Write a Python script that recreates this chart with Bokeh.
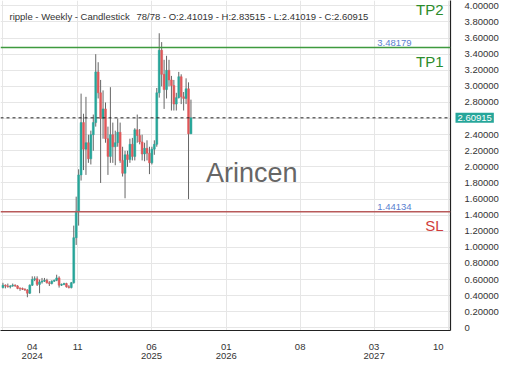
import pandas as pd
from bokeh.plotting import figure
from bokeh.models import Range1d, FixedTicker, Label, Span, ColumnDataSource, NumeralTickFormatter
from bokeh.embed import file_html
from bokeh.resources import INLINE

# ---------------- data ----------------
week_start = "2024-04-01"
n_weeks = 78
opens = [0.50, 0.53, 0.52, 0.51, 0.52, 0.53, 0.52, 0.495, 0.49, 0.48,
         0.47, 0.43, 0.53, 0.60, 0.61, 0.54, 0.57, 0.58, 0.59, 0.56,
         0.55, 0.58, 0.59, 0.62, 0.53, 0.54, 0.55, 0.51, 0.50, 0.56,
         1.12, 1.45, 1.90, 2.55, 2.22, 2.30, 2.10, 2.40, 2.55, 3.18,
         2.92, 2.60, 2.72, 2.35, 2.13, 2.40, 2.25, 2.30, 2.43, 2.08,
         1.92, 2.15, 2.09, 2.28, 2.13, 2.46, 2.39, 2.31, 2.16, 2.23,
         2.17, 2.05, 2.22, 2.28, 2.92, 3.45, 3.15, 2.96, 3.20, 3.08,
         3.01, 2.78, 2.86, 3.12, 2.87, 2.85, 2.97, 2.41019]
highs = [0.56, 0.54, 0.55, 0.53, 0.55, 0.54, 0.53, 0.50, 0.50, 0.49,
         0.48, 0.54, 0.64, 0.64, 0.64, 0.60, 0.62, 0.62, 0.61, 0.58,
         0.59, 0.60, 0.66, 0.64, 0.55, 0.56, 0.56, 0.53, 0.57, 1.27,
         1.63, 1.97, 2.91, 2.66, 2.87, 2.40, 2.45, 2.65, 3.40, 3.30,
         3.08, 2.95, 2.80, 2.50, 2.99, 2.55, 2.45, 2.60, 2.55, 2.25,
         2.20, 2.20, 2.35, 2.36, 2.48, 2.65, 2.47, 2.40, 2.30, 2.33,
         2.25, 2.25, 2.33, 2.98, 3.66, 3.55, 3.33, 3.38, 3.33, 3.13,
         3.08, 2.92, 3.18, 3.15, 2.93, 3.10, 3.05, 2.83515]
lows = [0.49, 0.49, 0.50, 0.49, 0.51, 0.51, 0.48, 0.46, 0.47, 0.46,
        0.38, 0.42, 0.52, 0.58, 0.52, 0.43, 0.55, 0.57, 0.55, 0.52,
        0.54, 0.57, 0.58, 0.50, 0.52, 0.53, 0.50, 0.49, 0.49, 0.55,
        1.03, 1.27, 1.83, 1.96, 1.90, 2.05, 2.03, 2.20, 2.50, 2.85,
        1.80, 2.35, 2.30, 1.90, 2.05, 2.05, 2.02, 2.25, 2.05, 1.88,
        1.61, 2.00, 2.05, 2.08, 2.08, 2.30, 2.28, 2.08, 2.07, 2.08,
        1.91, 2.03, 2.15, 2.25, 2.86, 3.00, 2.72, 2.85, 3.00, 2.70,
        2.70, 2.70, 2.85, 2.78, 2.70, 2.78, 1.60, 2.41019]
closes = [0.53, 0.52, 0.51, 0.52, 0.53, 0.52, 0.49, 0.49, 0.48, 0.47,
          0.43, 0.53, 0.60, 0.61, 0.54, 0.57, 0.58, 0.59, 0.56, 0.55,
          0.58, 0.59, 0.62, 0.53, 0.54, 0.55, 0.51, 0.50, 0.56, 1.12,
          1.45, 1.90, 2.55, 2.22, 2.30, 2.10, 2.40, 2.55, 3.18, 2.92,
          2.60, 2.72, 2.35, 2.13, 2.40, 2.25, 2.30, 2.43, 2.08, 1.92,
          2.15, 2.09, 2.28, 2.13, 2.46, 2.39, 2.31, 2.16, 2.23, 2.17,
          2.05, 2.22, 2.28, 2.92, 3.45, 3.15, 2.96, 3.20, 3.08, 3.01,
          2.78, 2.86, 3.12, 2.87, 2.85, 2.97, 2.41, 2.60915]

y_ticks = [0, 0.2, 0.4, 0.6, 0.8, 1.0, 1.2, 1.4, 1.6, 1.8, 2.0,
           2.2, 2.4, 2.6, 2.8, 3.0, 3.2, 3.4, 3.6, 3.8, 4.0]
x_tick_dates = ["2024-04-01", "2024-11-01", "2025-06-01", "2026-01-01",
                "2026-08-01", "2027-03-01", "2027-10-01"]
x_tick_labels = ["04\n2024", "11", "06\n2025", "01\n2026", "08", "03\n2027", "10"]

title_left = "ripple - Weekly - Candlestick"
title_right = "78/78 - O:2.41019 - H:2.83515 - L:2.41019 - C:2.60915"
last_price = 2.60915
tp1 = 3.48179
tp2 = 4.12
sl = 1.44134
watermark = "Arincen"

# ---------------- build ----------------
dates = pd.date_range(week_start, periods=n_weeks, freq="7D")
up_col, down_col = "#26a69a", "#e0585a"
cols = [up_col if c >= o else down_col for o, c in zip(opens, closes)]
src = ColumnDataSource(dict(
    x=dates, o=opens, h=highs, l=lows, c=closes,
    top=[max(o, c) for o, c in zip(opens, closes)],
    bot=[min(o, c) for o, c in zip(opens, closes)],
    col=cols))

x0 = pd.Timestamp("2024-03-25")
x1 = pd.Timestamp("2027-10-06")
FONT = "Liberation Sans"
NB = "\u00a0" * 8

p = figure(width=504, height=374, x_axis_type="datetime", y_axis_location="right",
           output_backend="svg", toolbar_location=None,
           x_range=Range1d(x0, x1), y_range=Range1d(-0.033, 4.067),
           min_border_left=0, min_border_top=0, min_border_bottom=0, min_border_right=54)
p.outline_line_color = None
p.background_fill_color = "white"

day_ms = 86400000
p.segment(x0="x", y0="l", x1="x", y1="h", source=src, line_color="#666666", line_width=1)
p.vbar(x="x", top="top", bottom="bot", width=5.5 * day_ms, source=src,
       fill_color="col", line_color="col", line_width=0.5)

# y axis
p.yaxis.ticker = FixedTicker(ticks=y_ticks)
p.yaxis.formatter = NumeralTickFormatter(format="0.00000")
p.yaxis.major_label_overrides = {0: "0", 2.6: ""}
p.yaxis.major_tick_line_color = None
p.yaxis.minor_tick_line_color = None
p.yaxis.axis_line_color = "#222222"
p.yaxis.axis_line_width = 1.2
p.yaxis.major_label_standoff = 8
p.yaxis.major_label_text_font = FONT
p.yaxis.major_label_text_font_size = "9.5px"
p.yaxis.major_label_text_color = "#333333"

# x axis
tick_ms = [pd.Timestamp(d).value // 10**6 for d in x_tick_dates]
p.xaxis.ticker = FixedTicker(ticks=tick_ms)
labs = list(x_tick_labels)
labs[0] = "\n".join(NB + s for s in labs[0].split("\n"))
labs[-1] = "\n".join(s + NB for s in labs[-1].split("\n"))
p.xaxis.major_label_overrides = {t: lab for t, lab in zip(tick_ms, labs)}
p.xaxis.major_tick_line_color = None
p.xaxis.minor_tick_line_color = None
p.xaxis.axis_line_color = "#222222"
p.xaxis.axis_line_width = 1.2
p.xaxis.major_label_standoff = 4
p.xaxis.major_label_text_font = FONT
p.xaxis.major_label_text_font_size = "9.5px"
p.xaxis.major_label_text_color = "#333333"
p.xaxis.major_label_text_line_height = 0.9

p.grid.grid_line_color = "#e6e6e6"
p.xgrid.ticker = FixedTicker(ticks=tick_ms)
p.ygrid.ticker = FixedTicker(ticks=y_ticks)

# levels
p.add_layout(Span(location=tp1, dimension="width", line_color="#3f9a3f", line_width=1.5))
p.add_layout(Span(location=tp2, dimension="width", line_color="#3f9a3f", line_width=1.5))
p.add_layout(Span(location=sl, dimension="width", line_color="#b85a5a", line_width=1.5))
p.add_layout(Span(location=last_price, dimension="width", line_color="#222222",
                  line_width=1, line_dash="3 3"))

for lvl, txt, col in [(tp1, "TP1", "#2b8c2b"), (tp2, "TP2", "#2b8c2b"), (sl, "SL", "#d03c3c")]:
    p.add_layout(Label(x=x1, y=lvl, x_offset=-7, y_offset=-5, text=txt, text_align="right",
                       text_baseline="top", text_font=FONT, text_font_size="15px",
                       text_color=col))
label_x = pd.Timestamp("2027-03-10")
for lvl in [tp1, sl]:
    p.add_layout(Label(x=label_x, y=lvl, y_offset=2, text=f"{lvl:.5f}", text_align="left",
                       text_baseline="bottom", text_font=FONT, text_font_size="9.5px",
                       text_color="#5a7fd0"))

# price box on the axis (in a side panel so it is not clipped to the frame)
p.add_layout(Label(x=x1, x_offset=5, y=last_price, text=f"{last_price:.5f}",
                   text_align="left", text_baseline="middle", text_font=FONT,
                   text_font_size="9.5px", text_color="white",
                   background_fill_color="#26a69a", padding=2), "below")

# title
p.add_layout(Label(x=x0, y=4.067, x_offset=9, y_offset=-16, text=title_left,
                   text_align="left", text_baseline="alphabetic", text_font=FONT,
                   text_font_size="9.5px", text_color="#333333"))
p.add_layout(Label(x=x0, y=4.067, x_offset=136, y_offset=-16, text=title_right,
                   text_align="left", text_baseline="alphabetic", text_font=FONT,
                   text_font_size="9.5px", text_color="#333333"))

# watermark
p.add_layout(Label(x=pd.Timestamp("2026-03-15"), y=1.92, text=watermark,
                   text_align="center", text_baseline="middle", text_font=FONT,
                   text_font_size="27px", text_color="#666666"))

open("out.html", "w").write(file_html(p, INLINE))
